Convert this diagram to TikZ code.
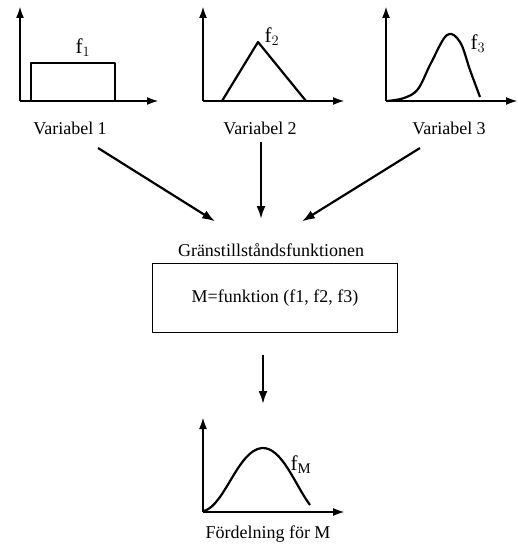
\documentclass[tikz,border=0pt]{standalone}
\usepackage{fontspec}
\setmainfont{Liberation Serif}
\usetikzlibrary{positioning,arrows.meta}

\begin{document}
\begin{tikzpicture}[x=1pt,y=-1pt,
  axis/.style={line width=2.2pt,-{Latex[length=12pt,width=8pt]}},
  graph/.style={line width=2.2pt,line join=round},
  flow/.style={line width=2.2pt,-{Latex[length=13pt,width=9pt]},shorten >=1pt},
  lbl/.style={font=\fontsize{18}{21}\selectfont,inner sep=1pt},
  fname/.style={font=\fontsize{21}{24}\selectfont,inner sep=1pt}]

  \useasboundingbox (0,0) rectangle (518,548);

  % variable 1: uniform
  \draw[axis] (20,101) -- (20,6);
  \draw[axis] (20,101) -- (159,101);
  \draw[graph] (31,101) -- (31,63) -- (115,63) -- (115,101);
  \node[fname] (f1) at (83,48) {f$_1$};
  \node[lbl] (var1) at (70,128) {Variabel 1};

  % variable 2: triangle
  \draw[axis] (203,101) -- (203,6);
  \draw[axis] (203,101) -- (345,101);
  \draw[graph] (222,101) -- (258,42) -- (306,101);
  \node[fname] (f2) at (272,37) {f$_2$};
  \node[lbl] (var2) at (260,128) {Variabel 2};

  % variable 3: skewed bell
  \draw[axis] (386,101) -- (386,6);
  \draw[axis] (386,101) -- (518,101);
  \draw[graph] plot[smooth,tension=0.6] coordinates {(387,101) (404,98) (418,89) (431,63) (447,35) (460,42) (470,70) (480,97)};
  \node[fname] (f3) at (478,44) {f$_3$};
  \node[lbl] (var3) at (449,128) {Variabel 3};

  % limit state function
  \node[lbl] (title) at (271,250) {Gränstillståndsfunktionen};
  \node[draw,line width=1.8pt,minimum width=245pt,minimum height=69pt,lbl] (func) at (275,298) {M=funktion (f1, f2, f3)};

  \coordinate (in1) at (216,222);
  \coordinate (in2) at (261,220);
  \coordinate (in3) at (301,222);
  \draw[flow] (98,148) -- (in1);
  \draw[flow] (var2.south) ++(1,6) -- (in2);
  \draw[flow] (420,148) -- (in3);

  % distribution of M
  \coordinate (out) at (263,405);
  \draw[flow] (func.south -| out) ++(0,22) -- (out);
  \draw[axis] (203,512) -- (203,417);
  \draw[axis] (203,512) -- (345,512);
  \draw[graph] (204,511) .. controls (225,505) and (238,450) .. (262,448)
                         .. controls (282,447) and (295,485) .. (310,505);
  \node[fname] (fM) at (301,465) {f$_{\mathrm{M}}$};
  \node[lbl] (distM) at (268,534) {Fördelning för M};

\end{tikzpicture}
\end{document}
